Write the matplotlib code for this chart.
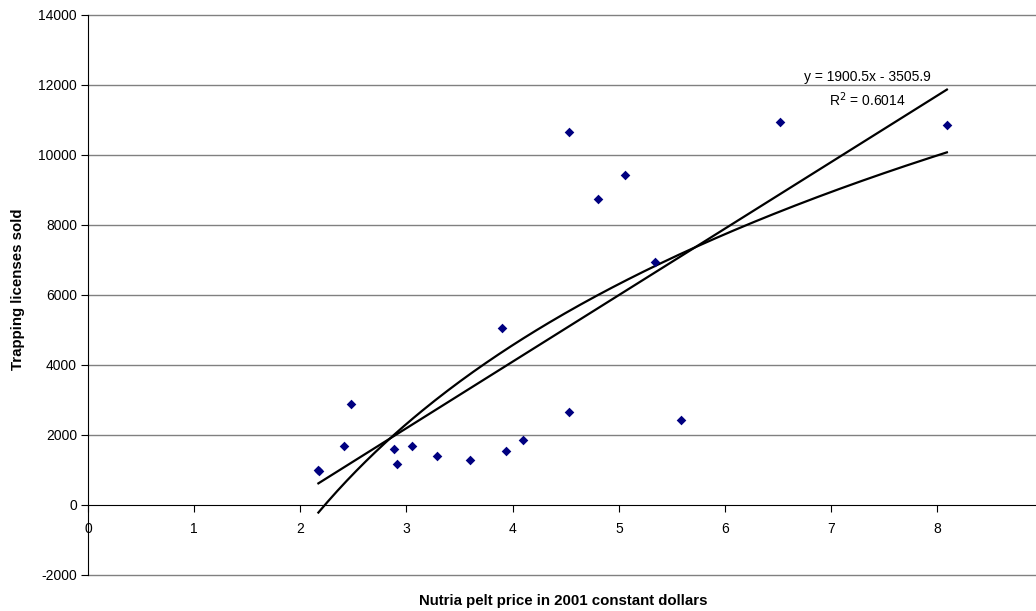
import numpy as np
import matplotlib
matplotlib.use("Agg")
import matplotlib.pyplot as plt

plt.rcParams['font.family'] = ['Liberation Sans', 'DejaVu Sans']

# Data
price = [2.17, 2.18, 2.41, 2.48, 2.88, 2.91, 3.05, 3.29, 3.60, 3.90, 3.94,
         4.10, 4.53, 4.53, 4.80, 5.06, 5.34, 5.59, 6.52, 8.09]
licenses = [1010, 980, 1694, 2877, 1591, 1180, 1694, 1409, 1286, 5057, 1551,
            1857, 2666, 10657, 8751, 9437, 6934, 2429, 10934, 10849]

# Trendline coefficients (linear from label; log)
lin_slope, lin_intercept = 1900.5, -3505.9
log_a, log_b = 7821.0, -6275.0
eq_label = "y = 1900.5x - 3505.9"
r2_label = "R$^2$ = 0.6014"

x_ticks = [0, 1, 2, 3, 4, 5, 6, 7, 8]
y_ticks = [-2000, 0, 2000, 4000, 6000, 8000, 10000, 12000, 14000]

fig = plt.figure(figsize=(10.36, 6.11), dpi=100)
ax = fig.add_axes([88/1036, 1-575/611, 1-88/1036, (575-15)/611])

for yv in y_ticks:
    if yv != 0:
        ax.axhline(yv, color='#808080', lw=1.0, zorder=1, clip_on=False)

xs = np.linspace(min(price), max(price), 200)
ax.plot(xs, lin_slope*xs + lin_intercept, color='black', lw=1.6, zorder=3)
ax.plot(xs, log_a*np.log(xs) + log_b, color='black', lw=1.6, zorder=3)

ax.scatter(price, licenses, marker='D', s=24, color='#000080', zorder=4, linewidths=0)

ax.set_xlim(0, (1036-87.7)/106.2)
ax.set_ylim(-2000, 14000)
ax.set_xticks(x_ticks)
ax.set_yticks(y_ticks)
ax.set_yticklabels([str(v) for v in y_ticks], fontsize=10)
ax.set_xticklabels([str(v) for v in x_ticks], fontsize=10)

ax.spines['top'].set_visible(False)
ax.spines['right'].set_visible(False)
ax.spines['bottom'].set_position(('data', 0))
ax.spines['bottom'].set_color('black')
ax.spines['left'].set_color('black')
ax.tick_params(axis='x', direction='out', length=5, pad=7, color='black')
ax.tick_params(axis='y', direction='out', length=5, pad=3, color='black')

fig.text(867/1036, 1-77/611, eq_label, fontsize=10, ha='center', va='center')
fig.text(867/1036, 1-100/611, r2_label, fontsize=10, ha='center', va='center')

fig.text(563/1036, 1-601/611, "Nutria pelt price in 2001 constant dollars",
         fontsize=10.8, fontweight='bold', ha='center', va='center')
fig.text(18/1036, 1-289/611, "Trapping licenses sold", rotation=90,
         fontsize=10.8, fontweight='bold', ha='center', va='center')

fig.savefig("out.png", dpi=100)
